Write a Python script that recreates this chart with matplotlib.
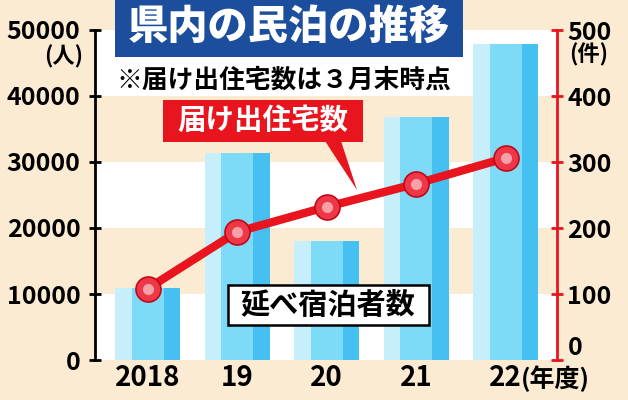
import matplotlib
matplotlib.use("Agg")
import matplotlib.pyplot as plt
import numpy as np
from matplotlib.patches import Rectangle, Polygon

plt.rcParams["font.family"] = ["Noto Sans CJK JP", "DejaVu Sans"]
plt.rcParams["font.weight"] = "bold"

years = ["2018", "19", "20", "21", "22"]
guests = [10900, 31400, 18000, 36800, 47900]      # 延べ宿泊者数 (人)
houses = [108, 194, 232, 267, 306]                # 届け出住宅数 (件)
left_ticks = [0, 10000, 20000, 30000, 40000, 50000]
right_ticks = [0, 100, 200, 300, 400, 500]

BEIGE = "#FCEBD3"
RED = "#E8141E"
BLUE = "#1D4E9E"
BAR_LIGHT = "#C6EEFB"
BAR_MID = "#7DDBF8"
BAR_DARK = "#45C0F0"

W, H = 628, 400
fig = plt.figure(figsize=(W / 100, H / 100), dpi=100, facecolor=BEIGE)
ax = fig.add_axes([95 / W, 40 / H, 462 / W, 330 / H])
ax.set_facecolor("white")

x = np.arange(len(years))
ax.set_xlim(-0.587, 4.575)
ax.set_ylim(0, 50000)

# alternating background bands
for lo in (10000, 30000):
    ax.axhspan(lo, lo + 10000, color=BEIGE, zorder=0, lw=0)

# striped bars: light | mid | dark
bw = 0.726
parts = [(BAR_LIGHT, 0.26), (BAR_MID, 0.49), (BAR_DARK, 0.25)]
start = x - bw / 2
for color, frac in parts:
    ax.bar(start, guests, width=bw * frac, align="edge", color=color, lw=0, zorder=2)
    start = start + bw * frac

for side in ("top", "right", "bottom"):
    ax.spines[side].set_visible(False)
ax.spines["left"].set_linewidth(2)
ax.set_yticks(left_ticks)
ax.set_yticklabels([str(v) for v in left_ticks], fontsize=18, fontweight="bold")
ax.tick_params(axis="y", direction="inout", length=9, width=2, pad=6)
ax.set_xticks(x)
ax.set_xticklabels(years, fontsize=20, fontweight="bold")
ax.tick_params(axis="x", length=0, pad=3)

# line on right axis
ax2 = ax.twinx()
ax2.set_ylim(0, 500)
for side in ("top", "left", "bottom"):
    ax2.spines[side].set_visible(False)
ax2.spines["right"].set_color(RED)
ax2.spines["right"].set_linewidth(2)
ax2.set_yticks(right_ticks)
ax2.set_yticklabels([str(v) for v in right_ticks], fontsize=18, fontweight="bold")
ax2.tick_params(axis="y", direction="inout", length=9, width=2, colors=RED, labelcolor="black", pad=3)
ax2.get_yticklabels()[0].set_va("bottom")
ax2.plot(x, houses, color=RED, lw=6, zorder=3, solid_capstyle="round")
ax2.plot(x, houses, "o", ms=18, mfc="#EE3848", mec="#C00818", mew=1.2, zorder=4)
ax2.plot(x, houses, "o", ms=8, mfc="#F8A0A8", mec="none", zorder=5)

# title
fig.patches.append(Rectangle((115 / W, 1 - 57 / H), 348 / W, 57 / H, transform=fig.transFigure,
                             facecolor=BLUE, edgecolor="none", zorder=5))
fig.text(289 / W, 1 - 27 / H, "県内の民泊の推移", color="white", fontsize=29, fontweight="heavy",
         ha="center", va="center", zorder=6)
fig.text(116 / W, 1 - 80 / H, "※届け出住宅数は３月末時点", color="black", fontsize=18.5,
         fontweight="bold", ha="left", va="center", zorder=6)

# red label for line
fig.patches.append(Rectangle((163 / W, 1 - 142 / H), 200 / W, 42 / H, transform=fig.transFigure,
                             facecolor=RED, edgecolor="none", zorder=5))
fig.patches.append(Polygon([(325 / W, 1 - 141 / H), (341 / W, 1 - 141 / H), (357 / W, 1 - 190 / H)],
                           closed=True, transform=fig.transFigure, facecolor=RED, edgecolor="none", zorder=5))
fig.text(263 / W, 1 - 121 / H, "届け出住宅数", color="white", fontsize=20.5, fontweight="bold",
         ha="center", va="center", zorder=6)

# label for bars
fig.patches.append(Rectangle((228 / W, 1 - 325 / H), 201 / W, 40 / H, transform=fig.transFigure,
                             facecolor="white", edgecolor="black", lw=1.8, zorder=5))
fig.text(328 / W, 1 - 305 / H, "延べ宿泊者数", color="black", fontsize=21, fontweight="bold",
         ha="center", va="center", zorder=6)

# units
fig.text(64 / W, 1 - 57 / H, "(人)", fontsize=16, fontweight="bold", ha="center", va="center")
fig.text(589 / W, 1 - 55 / H, "(件)", fontsize=16, fontweight="bold", ha="center", va="center")
fig.text(521 / W, 1 - 379 / H, "(年度)", fontsize=18, fontweight="bold", ha="left", va="center")

fig.savefig("out.png", dpi=100, facecolor=BEIGE)
